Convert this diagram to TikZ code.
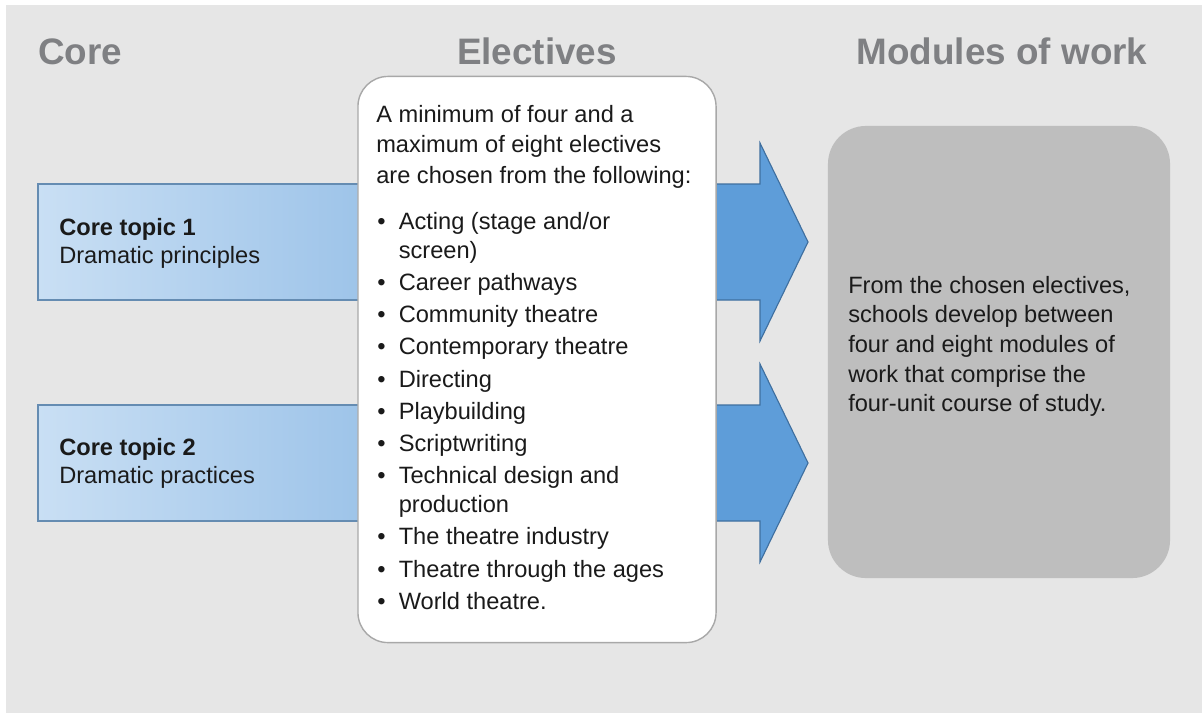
\documentclass[tikz,border=0pt]{standalone}
\usepackage{fontspec}
\setmainfont{Liberation Sans}
\usepackage{xcolor}
\usetikzlibrary{positioning,calc}

\definecolor{pagegray}{HTML}{E6E6E6}
\definecolor{headgray}{HTML}{7F8083}
\definecolor{coreleft}{HTML}{C9DFF4}
\definecolor{coreright}{HTML}{96BFE7}
\definecolor{arrowblue}{HTML}{5E9DD9}
\definecolor{arrowline}{HTML}{3F6F9F}
\definecolor{boxline}{HTML}{A8A8A8}
\definecolor{modgray}{HTML}{BEBEBE}
\definecolor{inktext}{HTML}{1A1A1A}

\newcommand{\bodyfont}{\fontsize{16.8pt}{20.6pt}\selectfont}

\begin{document}
\begin{tikzpicture}[x=0.025cm, y=-0.025cm,
    heading/.style={font=\fontsize{26.2pt}{30pt}\selectfont\bfseries, text=headgray, inner sep=0pt},
    bodytext/.style={font=\bodyfont, text=inktext, inner sep=0pt, anchor=base west},
    coreshape/.style={draw=arrowline!80, line width=1pt, left color=coreleft, right color=coreright},
    bigarrow/.style={draw=arrowline, line width=0.8pt, fill=arrowblue}]

    \useasboundingbox (0,0) rectangle (1202,713);
    \fill[pagegray] (6,5) rectangle (1202,713);

    % core topics and the arrows into the modules
    \draw[coreshape] (38,184) rectangle (420,300);
    \draw[coreshape] (38,405) rectangle (420,521);
    \foreach \t/\b in {184/300, 405/521} {
        \draw[bigarrow] (400,\t) -- (760,\t) -- (760,\t-41) -- (808,{(\t+\b)/2})
            -- (760,\b+41) -- (760,\b) -- (400,\b) -- cycle;
    }

    \node[draw=boxline, line width=1pt, fill=white, rounded corners=0.75cm,
          minimum width=8.95cm, minimum height=14.15cm] (electives) at (537,359.5) {};
    \node[fill=modgray, rounded corners=0.95cm,
          minimum width=8.55cm, minimum height=11.3cm] (modules) at (999,352) {};

    % headings
    \node[heading, anchor=base west] (coretitle) at (38,64) {Core};
    \node[heading, anchor=base] (electivetitle) at (537,64) {Electives};
    \node[heading, anchor=base] (moduletitle) at (1002,64) {Modules of work};

    % texts
    \node[bodytext] (topicone) at (59,235) {\begin{tabular}[t]{@{}l@{}}\textbf{Core topic 1}\\Dramatic principles\end{tabular}};
    \node[bodytext] (topictwo) at (59,455) {\begin{tabular}[t]{@{}l@{}}\textbf{Core topic 2}\\Dramatic practices\end{tabular}};

    \node[bodytext] (intro) at (376,122) {\begin{tabular}[t]{@{}l@{}}A minimum of four and a\\[1.1pt]
        maximum of eight electives\\[1.1pt] are chosen from the following:\end{tabular}};
    \node[bodytext] (electivelist) at (377,229.3) {\begin{tabular}[t]{@{}l@{\hspace{9.4pt}}l@{}}
        • & Acting (stage and/or\\
          & screen)\\[2.3pt]
        • & Career pathways\\[2.3pt]
        • & Community theatre\\[2.3pt]
        • & Contemporary theatre\\[2.3pt]
        • & Directing\\[2.3pt]
        • & Playbuilding\\[2.3pt]
        • & Scriptwriting\\[2.3pt]
        • & Technical design and\\
          & production\\[2.3pt]
        • & The theatre industry\\[2.3pt]
        • & Theatre through the ages\\[2.3pt]
        • & World theatre.
        \end{tabular}};

    \node[bodytext] (moduletext) at (848,293.3) {\begin{tabular}[t]{@{}l@{}}From the chosen electives,\\[0.5pt]
        schools develop between\\[0.5pt] four and eight modules of\\[0.5pt]
        work that comprise the\\[0.5pt] four-unit course of study.\end{tabular}};
\end{tikzpicture}
\end{document}
